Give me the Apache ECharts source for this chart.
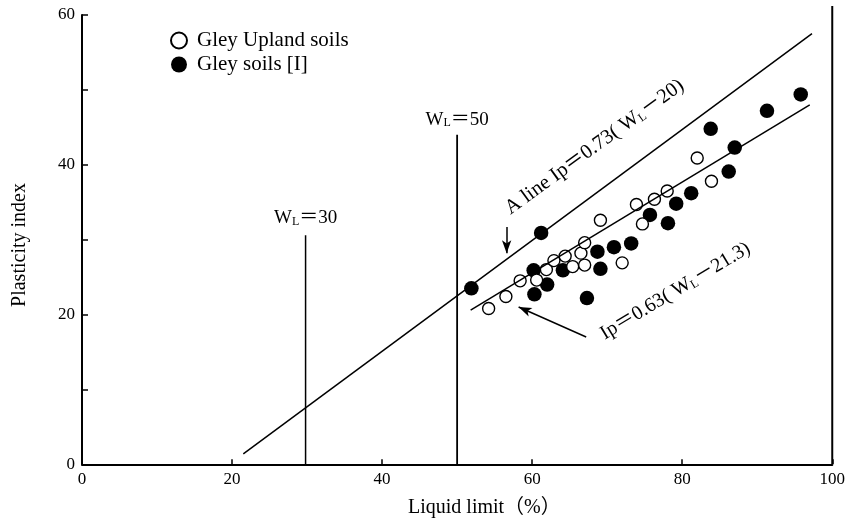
<!DOCTYPE html>
<html><head><meta charset="utf-8">
<script src="https://cdn.jsdelivr.net/npm/echarts@6/dist/echarts.min.js"></script>
<style>html,body{margin:0;padding:0;background:#fff}#c{width:848px;height:522px}</style>
</head><body><div id="c"></div>
<script>
// ---- data ----
const seriesNames = ['Gley Upland soils', 'Gley soils [I]'];
const uplandSoils = [
  [54.2,20.8],[56.5,22.4],[58.4,24.5],[60.6,24.6],[61.9,26.0],[62.9,27.2],[64.4,27.8],
  [65.4,26.4],[66.5,28.2],[67.0,29.6],[67.0,26.6],[69.1,32.6],[72.0,26.9],[73.9,34.7],
  [74.7,32.1],[76.3,35.4],[78.0,36.5],[82.0,40.9],[83.9,37.8]
];
const gleySoils = [
  [51.9,23.5],[61.2,30.9],[60.2,25.9],[62.0,24.0],[60.3,22.7],[64.1,25.9],[67.3,22.2],
  [68.7,28.4],[69.1,26.1],[70.9,29.0],[73.2,29.5],[75.7,33.3],[78.1,32.2],[79.2,34.8],
  [81.2,36.2],[83.8,44.8],[87.0,42.3],[86.2,39.1],[91.3,47.2],[95.8,49.4]
];
const aLine = [[21.5,1.4],[97.3,57.5]];
const ipLine = [[51.8,20.6],[97.0,48.0]];
const wl30Line = [[29.8,0],[29.8,30.6]];
const wl50Line = [[50,0],[50,44.0]];
const rightBorder = [[100,0],[100,61.2]];
const aLineArrow = [[56.6,31.7],[56.6,28.2]];
const ipArrow = [[67.2,17.0],[58.2,21.0]];
const xTickLabels = [0,20,40,60,80,100];
const yTickLabels = [0,20,40,60];
const wl30LabelPos = [29.8,32.9];
const wl50LabelPos = [50,46.0];
const aLabelPos = [57.5,32.8];
const ipLabelPos = [70.0,16.1];

const FONT = "'Liberation Serif','Noto Serif','DejaVu Serif','Noto Sans CJK SC',serif";
const chart = echarts.init(document.getElementById('c'), null, {renderer:'canvas'});

const option = {
  animation: false,
  backgroundColor: '#fff',
  grid: {left: 82, right: 12.3, top: 15, bottom: 57.7, containLabel: false},
  legend: {
    orient: 'vertical', left: 165, top: 25, itemWidth: 16, itemHeight: 16, itemGap: 3,
    data: seriesNames,
    textStyle: {fontFamily: FONT, fontSize: 21, color: '#000', lineHeight: 16, padding: [0,0,0,5]}
  },
  xAxis: {
    type: 'value', min: 0, max: 100, interval: 20,
    axisLine: {show: true, lineStyle: {color: '#000', width: 2}},
    axisTick: {show: true, inside: true, length: 5, lineStyle: {color: '#000', width: 1.5}},
    axisLabel: {fontFamily: FONT, fontSize: 17, color: '#000', margin: 7,
      formatter: v => xTickLabels.includes(v) ? String(v) : ''},
    splitLine: {show: false}
  },
  yAxis: {
    type: 'value', min: 0, max: 60, interval: 10,
    axisLine: {show: true, lineStyle: {color: '#000', width: 2}},
    axisTick: {show: true, inside: true, length: 6, lineStyle: {color: '#000', width: 1.5}},
    axisLabel: {fontFamily: FONT, fontSize: 17, color: '#000', margin: 7,
      formatter: v => yTickLabels.includes(v) ? String(v) : ''},
    splitLine: {show: false}
  },
  series: [
    {name: seriesNames[1], type: 'scatter', data: gleySoils, symbol: 'circle', symbolSize: 14.5,
     itemStyle: {color: '#000', borderColor: '#000', borderWidth: 0, opacity: 1}, z: 3},
    {name: seriesNames[0], type: 'scatter', data: uplandSoils, symbol: 'circle', symbolSize: 12,
     itemStyle: {color: '#fff', borderColor: '#000', borderWidth: 1.4, opacity: 1}, z: 4},
    {type: 'line', data: aLine, symbol: 'none', lineStyle: {color: '#000', width: 1.5}, z: 5},
    {type: 'line', data: ipLine, symbol: 'none', lineStyle: {color: '#000', width: 1.5}, z: 5},
    {type: 'line', data: wl30Line, symbol: 'none', lineStyle: {color: '#000', width: 1.5}, z: 5},
    {type: 'line', data: wl50Line, symbol: 'none', lineStyle: {color: '#000', width: 1.8}, z: 5},
    {type: 'line', data: rightBorder, symbol: 'none', clip: false, lineStyle: {color: '#000', width: 2}, z: 5},
    {type: 'line', data: [], z: 5,
     markLine: {silent: true, symbol: ['none','arrow'], symbolSize: [7,13], animation: false,
       label: {show: false},
       lineStyle: {color: '#000', width: 1.5, type: 'solid'},
       data: [
         [{coord: aLineArrow[0]}, {coord: aLineArrow[1]}],
         [{coord: ipArrow[0]}, {coord: ipArrow[1]}]
       ]}}
  ]
};
chart.setOption(option);

function px(p){ return chart.convertToPixel({gridIndex:0}, p); }
const subRich = {s: {fontFamily: FONT, fontSize: 12, fill: '#000', verticalAlign: 'bottom'}};
const p30 = px(wl30LabelPos), p50 = px(wl50LabelPos), pa = px(aLabelPos), pi = px(ipLabelPos);
chart.setOption({
  graphic: [
    {type: 'text', x: p30[0], y: p30[1], style: {text: 'W{s|L}＝30', fontFamily: FONT, fontSize: 19, fill: '#000',
      align: 'center', verticalAlign: 'middle', rich: subRich}},
    {type: 'text', x: p50[0], y: p50[1], style: {text: 'W{s|L}＝50', fontFamily: FONT, fontSize: 19, fill: '#000',
      align: 'center', verticalAlign: 'middle', rich: subRich}},
    {type: 'text', x: pa[0], y: pa[1], rotation: 36*Math.PI/180, style: {text: 'A line Ip＝0.73( W{s|L}－20)', fontFamily: FONT, fontSize: 20.5, fill: '#000',
      align: 'left', verticalAlign: 'bottom', rich: subRich}},
    {type: 'text', x: pi[0], y: pi[1], rotation: 31*Math.PI/180, style: {text: 'Ip＝0.63( W{s|L}－21.3)', fontFamily: FONT, fontSize: 20, fill: '#000',
      align: 'left', verticalAlign: 'bottom', rich: subRich}},
    {type: 'text', x: 408, y: 508, style: {text: 'Liquid limit（%）', fontFamily: FONT, fontSize: 20, fill: '#000',
      align: 'left', verticalAlign: 'middle'}},
    {type: 'text', x: 20, y: 245, rotation: Math.PI/2, style: {text: 'Plasticity index', fontFamily: FONT, fontSize: 20, fill: '#000',
      align: 'center', verticalAlign: 'middle'}}
  ]
});
</script></body></html>
